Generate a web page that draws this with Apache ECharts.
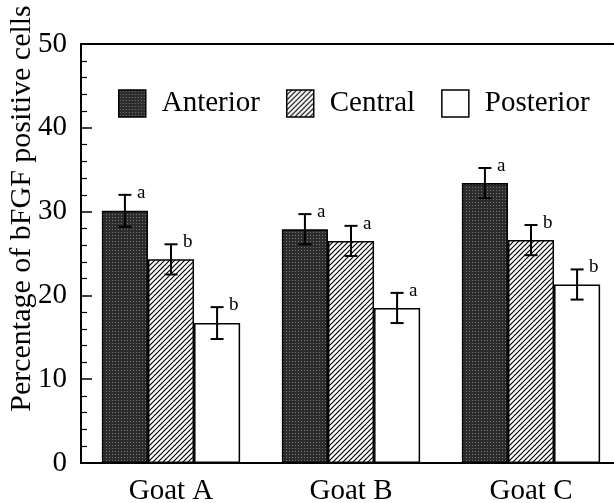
<!DOCTYPE html>
<html>
<head>
<meta charset="utf-8">
<script src="https://cdn.jsdelivr.net/npm/echarts@6/dist/echarts.min.js"></script>
<style>html,body{margin:0;padding:0;background:#fff;}#c{width:614px;height:503px;}</style>
</head>
<body>
<div id="c"></div>
<script>
const categories = ['Goat A', 'Goat B', 'Goat C'];
const seriesNames = ['Anterior', 'Central', 'Posterior'];
const anterior = [30.1, 27.9, 33.4];
const central = [24.3, 26.5, 26.6];
const posterior = [16.7, 18.5, 21.3];
const anteriorErr = [1.9, 1.8, 1.8];
const centralErr = [1.8, 1.8, 1.8];
const posteriorErr = [1.9, 1.8, 1.8];
const anteriorLetters = ['a', 'a', 'a'];
const centralLetters = ['b', 'a', 'b'];
const posteriorLetters = ['b', 'a', 'b'];
const yMin = 0, yMax = 50, yInterval = 10;

const FONT = "'Liberation Serif', 'Times New Roman', 'DejaVu Serif', serif";
const BARW = 0.256;

function dotPattern() {
  const c = document.createElement('canvas');
  c.width = 3; c.height = 3;
  const g = c.getContext('2d');
  g.fillStyle = '#2c2c2c'; g.fillRect(0, 0, 3, 3);
  g.fillStyle = '#7a7a7a'; g.fillRect(1, 1, 1, 1);
  return c;
}
function hatchPattern() {
  const s = 5;
  const c = document.createElement('canvas');
  c.width = s; c.height = s;
  const g = c.getContext('2d');
  g.fillStyle = '#fff'; g.fillRect(0, 0, s, s);
  g.strokeStyle = '#000'; g.lineWidth = 1.2;
  g.beginPath();
  g.moveTo(-1, s + 1); g.lineTo(s + 1, -1);
  g.moveTo(-1, 1); g.lineTo(1, -1);
  g.moveTo(s - 1, s + 1); g.lineTo(s + 1, s - 1);
  g.stroke();
  return c;
}
const fills = [
  { image: dotPattern(), repeat: 'repeat' },
  { image: hatchPattern(), repeat: 'repeat' },
  '#ffffff'
];
const values = [anterior, central, posterior];
const errs = [anteriorErr, centralErr, posteriorErr];
const letters = [anteriorLetters, centralLetters, posteriorLetters];

const barSeries = values.map((vals, i) => ({
  name: seriesNames[i],
  type: 'bar',
  data: vals,
  barWidth: (BARW * 100) + '%',
  barGap: '0%',
  itemStyle: { color: fills[i], borderColor: '#000', borderWidth: 1.5 },
  emphasis: { disabled: true },
  z: 2
}));

const errSeries = values.map((vals, idx) => ({
  type: 'custom',
  data: vals.map((v, i) => [i, v, errs[idx][i]]),
  z: 10,
  silent: true,
  renderItem: function (params, api) {
    const c = api.value(0), v = api.value(1), e = api.value(2);
    const band = api.size([1, 0])[0];
    const bw = band * BARW;
    const x = api.coord([c, v])[0] + (idx - 1) * bw;
    const yt = api.coord([c, v + e])[1];
    const yb = api.coord([c, v - e])[1];
    const cap = 6.5;
    const st = { stroke: '#000', lineWidth: 2 };
    return {
      type: 'group',
      children: [
        { type: 'line', shape: { x1: x, y1: yt, x2: x, y2: yb }, style: st },
        { type: 'line', shape: { x1: x - cap, y1: yt, x2: x + cap, y2: yt }, style: st },
        { type: 'line', shape: { x1: x - cap, y1: yb, x2: x + cap, y2: yb }, style: st },
        { type: 'text', style: { text: letters[idx][params.dataIndex], x: x + 12, y: yt - 2,
          verticalAlign: 'middle', align: 'left', font: "19px " + FONT, fill: '#000' } }
      ]
    };
  }
}));

const chart = echarts.init(document.getElementById('c'), null, { renderer: 'canvas' });
chart.setOption({
  backgroundColor: '#fff',
  animation: false,
  grid: { left: 81, top: 44, right: -7, bottom: 40, containLabel: false, outerBoundsMode: 'none' },
  legend: {
    data: seriesNames,
    left: 113, top: 84,
    itemWidth: 27, itemHeight: 27,
    itemGap: 26,
    icon: 'rect',
    selectedMode: false,
    textStyle: { fontFamily: FONT, fontSize: 29, color: '#000', padding: [0, 0, 0, 11] },
    itemStyle: { borderColor: '#000', borderWidth: 1.5 }
  },
  xAxis: [{
    type: 'category',
    data: categories,
    axisLine: { lineStyle: { color: '#000', width: 2 } },
    axisTick: { show: false },
    axisLabel: { fontFamily: FONT, fontSize: 29, color: '#000', margin: 14 }
  }, {
    type: 'category',
    data: categories,
    position: 'top',
    axisLine: { lineStyle: { color: '#000', width: 2 } },
    axisTick: { show: false },
    axisLabel: { show: false }
  }],
  yAxis: {
    type: 'value',
    min: yMin, max: yMax, interval: yInterval,
    name: 'Percentage of bFGF positive cells',
    nameLocation: 'middle',
    nameGap: 44,
    nameMoveOverlap: false,
    nameTextStyle: { fontFamily: FONT, fontSize: 30, color: '#000', padding: [0, 0, 0, 90] },
    axisLine: { show: true, lineStyle: { color: '#000', width: 2 } },
    axisTick: { show: true, inside: true, length: 11, lineStyle: { color: '#000', width: 1.5 } },
    minorTick: { show: true, splitNumber: 5, length: 6, lineStyle: { color: '#000', width: 1.2 } },
    splitLine: { show: false },
    axisLabel: { fontFamily: FONT, fontSize: 29, color: '#000', margin: 14 }
  },
  series: barSeries.concat(errSeries)
});
</script>
</body>
</html>
